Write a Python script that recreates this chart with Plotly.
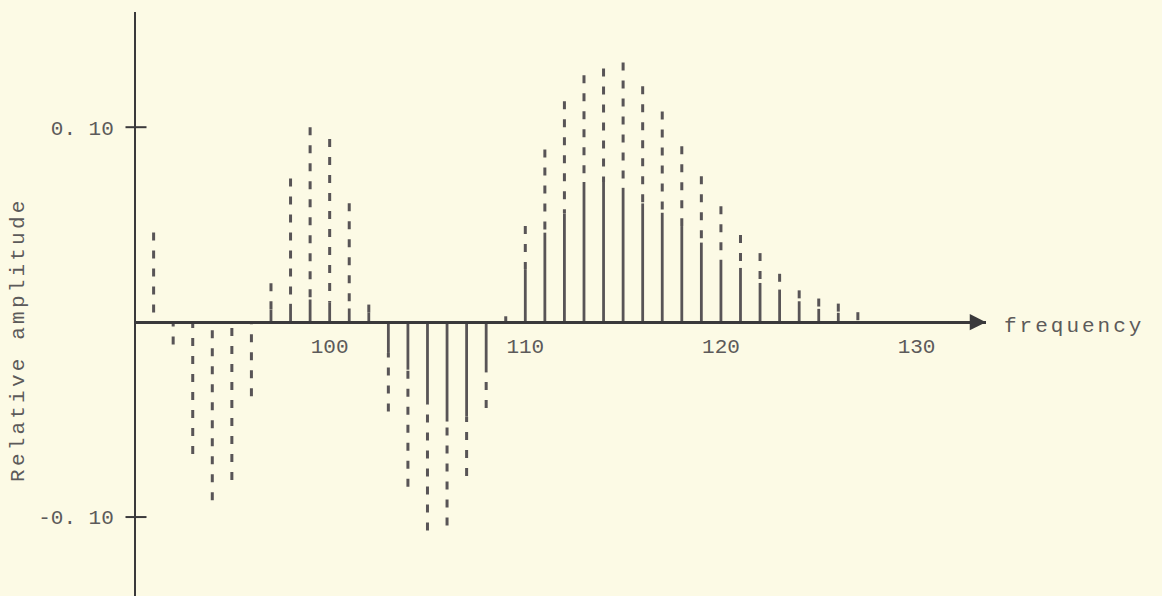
import plotly.graph_objects as go

# Spectral lines: frequency index, solid component, and total (dashed) extent
frequency = list(range(91, 128))
solid_part = [
    0.0, 0.0, 0.0, 0.0, 0.0, 0.0,              # 91-96
    0.0065, 0.0094, 0.0116, 0.0102, 0.007, 0.005,  # 97-102
    -0.0158, -0.0244, -0.042, -0.051, -0.0485, -0.0258,  # 103-108
    0.0,                                        # 109
    0.0272, 0.0459, 0.0558, 0.0719, 0.0719, 0.0689, 0.0609, 0.0561,  # 110-117
    0.0493, 0.0408, 0.032, 0.0278, 0.0201, 0.0167, 0.0107, 0.0068,   # 118-125
    0.0048, 0.0,                                # 126-127
]
total_part = [
    0.046, -0.0115, -0.0677, -0.0914, -0.081, -0.038,   # 91-96
    0.020, 0.0737, 0.100, 0.094, 0.061, 0.009,          # 97-102
    -0.0459, -0.0845, -0.1069, -0.1043, -0.079, -0.0441,  # 103-108
    0.003,                                              # 109
    0.0493, 0.0885, 0.1133, 0.1267, 0.1301, 0.1332, 0.121, 0.108,  # 110-117
    0.0902, 0.0749, 0.0595, 0.0447, 0.0354, 0.0248, 0.0163, 0.0121,  # 118-125
    0.0095, 0.0051,                                     # 126-127
]

x_tick_vals = [100, 110, 120, 130]
x_tick_text = ["100", "110", "120", "130"]
y_tick_vals = [0.10, -0.10]
y_tick_text = ["0. 10", "-0. 10"]

x_range = [90.1, 133.55]
y_range = [-0.1405, 0.1591]

BG = "#FCFAE5"
INK = "#585456"
AXIS = "#3a393b"
TEXT = "#5c5a5a"
FONT = "Liberation Mono"

# Build segmented line data: solid stems from zero, dashed extension from tip back to solid end
sx, sy, dx, dy = [], [], [], []
for f, s, t in zip(frequency, solid_part, total_part):
    if s != 0:
        sx += [f, f, None]
        sy += [0, s, None]
    dx += [f, f, None]
    dy += [t, s, None]

fig = go.Figure()
fig.add_trace(go.Scatter(
    x=dx, y=dy, mode="lines", connectgaps=False, hoverinfo="skip",
    line=dict(color=INK, width=3, dash="8px,10px"), cliponaxis=False,
))
fig.add_trace(go.Scatter(
    x=sx, y=sy, mode="lines", connectgaps=False, hoverinfo="skip",
    line=dict(color=INK, width=2.8), cliponaxis=False,
))
# Cross-shaped tick marks on the vertical axis
fig.add_trace(go.Scatter(
    x=[x_range[0]] * len(y_tick_vals), y=y_tick_vals, mode="markers",
    hoverinfo="skip", cliponaxis=False,
    marker=dict(symbol="line-ew", size=15, line=dict(color=AXIS, width=2)),
))

x_axis_pos = (0 - y_range[0]) / (y_range[1] - y_range[0])

fig.update_layout(
    width=1162, height=596,
    margin=dict(l=136, r=176, t=12, b=0),
    paper_bgcolor=BG, plot_bgcolor=BG,
    showlegend=False,
    xaxis=dict(
        range=x_range, anchor="free", position=x_axis_pos,
        showgrid=False, zeroline=False,
        showline=True, linecolor=AXIS, linewidth=2.5,
        tickvals=x_tick_vals, ticktext=x_tick_text, ticks="",
        ticklabelstandoff=4,
        tickfont=dict(family=FONT, size=21, color=TEXT),
    ),
    yaxis=dict(
        range=y_range, showgrid=False, zeroline=False,
        showline=True, linecolor=AXIS, linewidth=2,
        tickvals=y_tick_vals, ticktext=y_tick_text, ticks="",
        ticklabelstandoff=16,
        tickfont=dict(family=FONT, size=21, color=TEXT),
    ),
    annotations=[
        dict(
            x=x_range[1], y=0, xref="x", yref="y",
            ax=x_range[1] - 2.0, ay=0, axref="x", ayref="y",
            text="", showarrow=True, arrowhead=2, arrowsize=1.3,
            arrowwidth=2.5, arrowcolor=AXIS,
        ),
        dict(
            x=x_range[1], y=0, xref="x", yref="y",
            xanchor="left", yanchor="middle", xshift=16, yshift=-4,
            text='<span style="letter-spacing:3px">frequency</span>',
            showarrow=False, font=dict(family=FONT, size=21, color=TEXT),
        ),
        dict(
            x=-0.139, y=-0.0092, xref="paper", yref="y",
            xanchor="center", yanchor="middle", textangle=-90,
            text='<span style="letter-spacing:3.2px">Relative amplitude</span>',
            showarrow=False, font=dict(family=FONT, size=21, color=TEXT),
        ),
    ],
)

fig.write_html("out.html")
